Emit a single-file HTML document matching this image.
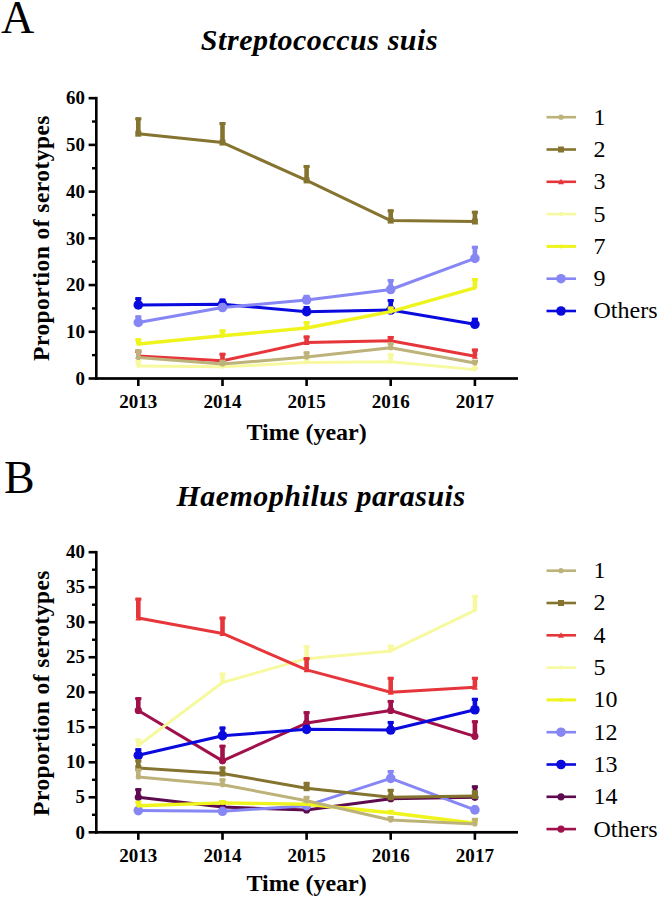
<!DOCTYPE html>
<html><head><meta charset="utf-8"><style>
html,body{margin:0;padding:0;background:#fff;}
svg{display:block;}
text{font-family:"Liberation Serif",serif;fill:#000;}
.tick{font-size:18px;font-weight:bold;}
.ax{font-size:24px;font-weight:bold;}
.yl{font-size:23.5px;font-weight:bold;letter-spacing:0.45px;}
.leg{font-size:24px;}
.title{font-size:31px;font-weight:bold;font-style:italic;}
.panel{font-size:46px;}
</style></head><body>
<svg width="658" height="897" viewBox="0 0 658 897">
<text x="0.9" y="32.8" class="panel">A</text>
<text x="319.5" y="50.4" class="title" text-anchor="middle" style="font-size:30px;letter-spacing:0.55px">Streptococcus suis</text>
<rect x="95" y="96.88" width="2.6" height="282.92" fill="#000"/>
<rect x="95" y="377.15" width="423" height="2.7" fill="#000"/>
<rect x="88.6" y="377.2" width="8" height="2.6" fill="#000"/>
<rect x="88.6" y="330.48" width="8" height="2.6" fill="#000"/>
<rect x="88.6" y="283.76" width="8" height="2.6" fill="#000"/>
<rect x="88.6" y="237.04" width="8" height="2.6" fill="#000"/>
<rect x="88.6" y="190.32" width="8" height="2.6" fill="#000"/>
<rect x="88.6" y="143.6" width="8" height="2.6" fill="#000"/>
<rect x="88.6" y="96.88" width="8" height="2.6" fill="#000"/>
<rect x="92" y="353.94" width="4.5" height="2.4" fill="#000"/>
<rect x="92" y="307.22" width="4.5" height="2.4" fill="#000"/>
<rect x="92" y="260.5" width="4.5" height="2.4" fill="#000"/>
<rect x="92" y="213.78" width="4.5" height="2.4" fill="#000"/>
<rect x="92" y="167.06" width="4.5" height="2.4" fill="#000"/>
<rect x="92" y="120.34" width="4.5" height="2.4" fill="#000"/>
<rect x="137" y="378.5" width="2.6" height="7.5" fill="#000"/>
<rect x="221.2" y="378.5" width="2.6" height="7.5" fill="#000"/>
<rect x="305.3" y="378.5" width="2.6" height="7.5" fill="#000"/>
<rect x="389.4" y="378.5" width="2.6" height="7.5" fill="#000"/>
<rect x="473.6" y="378.5" width="2.6" height="7.5" fill="#000"/>
<text transform="translate(85,384.7) scale(1.05,1)" class="tick" text-anchor="end">0</text>
<text transform="translate(85,337.98) scale(1.05,1)" class="tick" text-anchor="end">10</text>
<text transform="translate(85,291.26) scale(1.05,1)" class="tick" text-anchor="end">20</text>
<text transform="translate(85,244.54) scale(1.05,1)" class="tick" text-anchor="end">30</text>
<text transform="translate(85,197.82) scale(1.05,1)" class="tick" text-anchor="end">40</text>
<text transform="translate(85,151.1) scale(1.05,1)" class="tick" text-anchor="end">50</text>
<text transform="translate(85,104.38) scale(1.05,1)" class="tick" text-anchor="end">60</text>
<text transform="translate(138.3,407.8) scale(1.06,1)" class="tick" text-anchor="middle">2013</text>
<text transform="translate(222.5,407.8) scale(1.06,1)" class="tick" text-anchor="middle">2014</text>
<text transform="translate(306.6,407.8) scale(1.06,1)" class="tick" text-anchor="middle">2015</text>
<text transform="translate(390.7,407.8) scale(1.06,1)" class="tick" text-anchor="middle">2016</text>
<text transform="translate(474.9,407.8) scale(1.06,1)" class="tick" text-anchor="middle">2017</text>
<text transform="translate(48.5,238) rotate(-90)" class="yl" text-anchor="middle">Proportion of serotypes</text>
<text x="306.6" y="440.4" class="ax" text-anchor="middle">Time (year)</text>
<g><rect x="136" y="297.21" width="4.6" height="7.71" fill="#0a0ade"/><rect x="135.2" y="297.21" width="6.2" height="3" fill="#0a0ade"/><rect x="220.2" y="298.61" width="4.6" height="5.61" fill="#0a0ade"/><rect x="219.4" y="298.61" width="6.2" height="3" fill="#0a0ade"/><rect x="304.3" y="306.08" width="4.6" height="5.61" fill="#0a0ade"/><rect x="303.5" y="306.08" width="6.2" height="3" fill="#0a0ade"/><rect x="388.4" y="299.08" width="4.6" height="10.98" fill="#0a0ade"/><rect x="387.6" y="299.08" width="6.2" height="3" fill="#0a0ade"/><rect x="472.6" y="317.76" width="4.6" height="6.54" fill="#0a0ade"/><rect x="471.8" y="317.76" width="6.2" height="3" fill="#0a0ade"/><path d="M138.3 304.92 L222.5 304.22 L306.6 311.69 L390.7 310.06 L474.9 324.3" fill="none" stroke="#0a0ade" stroke-width="3.0" stroke-linejoin="round"/><circle cx="138.3" cy="304.92" r="4.8" fill="#0a0ade"/><circle cx="222.5" cy="304.22" r="4.8" fill="#0a0ade"/><circle cx="306.6" cy="311.69" r="4.8" fill="#0a0ade"/><circle cx="390.7" cy="310.06" r="4.8" fill="#0a0ade"/><circle cx="474.9" cy="324.3" r="4.8" fill="#0a0ade"/></g>
<g><rect x="136" y="315.43" width="4.6" height="7.01" fill="#8686f4"/><rect x="135.2" y="315.43" width="6.2" height="3" fill="#8686f4"/><rect x="220.2" y="303.75" width="4.6" height="3.74" fill="#8686f4"/><rect x="219.4" y="303.75" width="6.2" height="3" fill="#8686f4"/><rect x="304.3" y="294.87" width="4.6" height="5.14" fill="#8686f4"/><rect x="303.5" y="294.87" width="6.2" height="3" fill="#8686f4"/><rect x="388.4" y="278.99" width="4.6" height="10.51" fill="#8686f4"/><rect x="387.6" y="278.99" width="6.2" height="3" fill="#8686f4"/><rect x="472.6" y="245.82" width="4.6" height="12.61" fill="#8686f4"/><rect x="471.8" y="245.82" width="6.2" height="3" fill="#8686f4"/><path d="M138.3 322.44 L222.5 307.49 L306.6 300.01 L390.7 289.5 L474.9 258.43" fill="none" stroke="#8686f4" stroke-width="3.0" stroke-linejoin="round"/><circle cx="138.3" cy="322.44" r="4.8" fill="#8686f4"/><circle cx="222.5" cy="307.49" r="4.8" fill="#8686f4"/><circle cx="306.6" cy="300.01" r="4.8" fill="#8686f4"/><circle cx="390.7" cy="289.5" r="4.8" fill="#8686f4"/><circle cx="474.9" cy="258.43" r="4.8" fill="#8686f4"/></g>
<g><rect x="136" y="338.32" width="4.6" height="5.7" fill="#eef41c"/><rect x="135.2" y="338.32" width="6.2" height="3" fill="#eef41c"/><rect x="220.2" y="329.44" width="4.6" height="6.35" fill="#eef41c"/><rect x="219.4" y="329.44" width="6.2" height="3" fill="#eef41c"/><rect x="304.3" y="321.03" width="4.6" height="7.01" fill="#eef41c"/><rect x="303.5" y="321.03" width="6.2" height="3" fill="#eef41c"/><rect x="388.4" y="306.55" width="4.6" height="5.14" fill="#eef41c"/><rect x="387.6" y="306.55" width="6.2" height="3" fill="#eef41c"/><rect x="472.6" y="278.05" width="4.6" height="9.81" fill="#eef41c"/><rect x="471.8" y="278.05" width="6.2" height="3" fill="#eef41c"/><path d="M138.3 344.02 L222.5 335.8 L306.6 328.04 L390.7 311.69 L474.9 287.86" fill="none" stroke="#eef41c" stroke-width="3.4" stroke-linejoin="round"/><circle cx="138.3" cy="344.02" r="2" fill="#eef41c"/><circle cx="222.5" cy="335.8" r="2" fill="#eef41c"/><circle cx="306.6" cy="328.04" r="2" fill="#eef41c"/><circle cx="390.7" cy="311.69" r="2" fill="#eef41c"/><circle cx="474.9" cy="287.86" r="2" fill="#eef41c"/></g>
<g><rect x="136" y="360.28" width="4.6" height="5.61" fill="#f7f9a0"/><rect x="135.2" y="360.28" width="6.2" height="3" fill="#f7f9a0"/><rect x="220.2" y="363.08" width="4.6" height="3.74" fill="#f7f9a0"/><rect x="219.4" y="363.08" width="6.2" height="3" fill="#f7f9a0"/><rect x="304.3" y="357.48" width="4.6" height="5.14" fill="#f7f9a0"/><rect x="303.5" y="357.48" width="6.2" height="3" fill="#f7f9a0"/><rect x="388.4" y="353.27" width="4.6" height="8.41" fill="#f7f9a0"/><rect x="387.6" y="353.27" width="6.2" height="3" fill="#f7f9a0"/><rect x="472.6" y="366.35" width="4.6" height="3.27" fill="#f7f9a0"/><rect x="471.8" y="366.35" width="6.2" height="3" fill="#f7f9a0"/><path d="M138.3 365.89 L222.5 366.82 L306.6 362.62 L390.7 361.68 L474.9 369.62" fill="none" stroke="#f7f9a0" stroke-width="3.0" stroke-linejoin="round"/><circle cx="138.3" cy="365.89" r="2" fill="#f7f9a0"/><circle cx="222.5" cy="366.82" r="2" fill="#f7f9a0"/><circle cx="306.6" cy="362.62" r="2" fill="#f7f9a0"/><circle cx="390.7" cy="361.68" r="2" fill="#f7f9a0"/><circle cx="474.9" cy="369.62" r="2" fill="#f7f9a0"/></g>
<g><rect x="136" y="350" width="4.6" height="6.07" fill="#e6363b"/><rect x="135.2" y="350" width="6.2" height="3" fill="#e6363b"/><rect x="220.2" y="352.8" width="4.6" height="7.94" fill="#e6363b"/><rect x="219.4" y="352.8" width="6.2" height="3" fill="#e6363b"/><rect x="304.3" y="335.52" width="4.6" height="7.01" fill="#e6363b"/><rect x="303.5" y="335.52" width="6.2" height="3" fill="#e6363b"/><rect x="388.4" y="335.98" width="4.6" height="4.67" fill="#e6363b"/><rect x="387.6" y="335.98" width="6.2" height="3" fill="#e6363b"/><rect x="472.6" y="348.6" width="4.6" height="7.71" fill="#e6363b"/><rect x="471.8" y="348.6" width="6.2" height="3" fill="#e6363b"/><path d="M138.3 356.07 L222.5 360.75 L306.6 342.53 L390.7 340.66 L474.9 356.31" fill="none" stroke="#e6363b" stroke-width="3.0" stroke-linejoin="round"/><path d="M138.3 353.07L141.3 358.57L135.3 358.57Z" fill="#e6363b"/><path d="M222.5 357.75L225.5 363.25L219.5 363.25Z" fill="#e6363b"/><path d="M306.6 339.53L309.6 345.03L303.6 345.03Z" fill="#e6363b"/><path d="M390.7 337.66L393.7 343.16L387.7 343.16Z" fill="#e6363b"/><path d="M474.9 353.31L477.9 358.81L471.9 358.81Z" fill="#e6363b"/></g>
<g><rect x="136" y="117.34" width="4.6" height="16.35" fill="#85742f"/><rect x="135.2" y="117.34" width="6.2" height="3" fill="#85742f"/><rect x="220.2" y="122.01" width="4.6" height="20.56" fill="#85742f"/><rect x="219.4" y="122.01" width="6.2" height="3" fill="#85742f"/><rect x="304.3" y="164.99" width="4.6" height="15.42" fill="#85742f"/><rect x="303.5" y="164.99" width="6.2" height="3" fill="#85742f"/><rect x="388.4" y="209.37" width="4.6" height="11.21" fill="#85742f"/><rect x="387.6" y="209.37" width="6.2" height="3" fill="#85742f"/><rect x="472.6" y="210.78" width="4.6" height="10.75" fill="#85742f"/><rect x="471.8" y="210.78" width="6.2" height="3" fill="#85742f"/><path d="M138.3 133.69 L222.5 142.56 L306.6 180.41 L390.7 220.59 L474.9 221.52" fill="none" stroke="#85742f" stroke-width="3.0" stroke-linejoin="round"/><rect x="135.3" y="130.69" width="6" height="6" fill="#85742f"/><rect x="219.5" y="139.56" width="6" height="6" fill="#85742f"/><rect x="303.6" y="177.41" width="6" height="6" fill="#85742f"/><rect x="387.7" y="217.59" width="6" height="6" fill="#85742f"/><rect x="471.9" y="218.52" width="6" height="6" fill="#85742f"/></g>
<g><rect x="136" y="349.21" width="4.6" height="8.27" fill="#bdb27a"/><rect x="135.2" y="349.21" width="6.2" height="3" fill="#bdb27a"/><rect x="220.2" y="359.81" width="4.6" height="4.2" fill="#bdb27a"/><rect x="219.4" y="359.81" width="6.2" height="3" fill="#bdb27a"/><rect x="304.3" y="351.4" width="4.6" height="5.61" fill="#bdb27a"/><rect x="303.5" y="351.4" width="6.2" height="3" fill="#bdb27a"/><rect x="388.4" y="342.06" width="4.6" height="5.61" fill="#bdb27a"/><rect x="387.6" y="342.06" width="6.2" height="3" fill="#bdb27a"/><rect x="472.6" y="359.81" width="4.6" height="3.27" fill="#bdb27a"/><rect x="471.8" y="359.81" width="6.2" height="3" fill="#bdb27a"/><path d="M138.3 357.48 L222.5 364.02 L306.6 357.01 L390.7 347.66 L474.9 363.08" fill="none" stroke="#bdb27a" stroke-width="3.0" stroke-linejoin="round"/><circle cx="138.3" cy="357.48" r="2.6" fill="#bdb27a"/><circle cx="222.5" cy="364.02" r="2.6" fill="#bdb27a"/><circle cx="306.6" cy="357.01" r="2.6" fill="#bdb27a"/><circle cx="390.7" cy="347.66" r="2.6" fill="#bdb27a"/><circle cx="474.9" cy="363.08" r="2.6" fill="#bdb27a"/></g>
<rect x="546.5" y="115.9" width="29.5" height="2.6" fill="#bdb27a"/>
<circle cx="561" cy="117.2" r="2.6" fill="#bdb27a"/>
<text x="593.5" y="124.6" class="leg">1</text>
<rect x="546.5" y="148.2" width="29.5" height="2.6" fill="#85742f"/>
<rect x="558" y="146.5" width="6" height="6" fill="#85742f"/>
<text x="593.5" y="156.9" class="leg">2</text>
<rect x="546.5" y="180.5" width="29.5" height="2.6" fill="#e6363b"/>
<path d="M561 178.8L564 184.3L558 184.3Z" fill="#e6363b"/>
<text x="593.5" y="189.2" class="leg">3</text>
<rect x="546.5" y="212.8" width="29.5" height="2.6" fill="#f7f9a0"/>
<circle cx="561" cy="214.1" r="2" fill="#f7f9a0"/>
<text x="593.5" y="221.5" class="leg">5</text>
<rect x="546.5" y="244.9" width="29.5" height="3.0" fill="#eef41c"/>
<circle cx="561" cy="246.4" r="2" fill="#eef41c"/>
<text x="593.5" y="253.8" class="leg">7</text>
<rect x="546.5" y="277.4" width="29.5" height="2.6" fill="#8686f4"/>
<circle cx="561" cy="278.7" r="4.8" fill="#8686f4"/>
<text x="593.5" y="286.1" class="leg">9</text>
<rect x="546.5" y="309.7" width="29.5" height="2.6" fill="#0a0ade"/>
<circle cx="561" cy="311" r="4.8" fill="#0a0ade"/>
<text x="593.5" y="318.4" class="leg">Others</text>

<text x="3.9" y="493.4" class="panel">B</text>
<text x="321" y="506.3" class="title" text-anchor="middle" style="font-size:30px;letter-spacing:0.5px">Haemophilus parasuis</text>
<rect x="95" y="550.9" width="2.6" height="282.7" fill="#000"/>
<rect x="95" y="830.95" width="423" height="2.7" fill="#000"/>
<rect x="88.6" y="831" width="8" height="2.6" fill="#000"/>
<rect x="88.6" y="795.99" width="8" height="2.6" fill="#000"/>
<rect x="88.6" y="760.98" width="8" height="2.6" fill="#000"/>
<rect x="88.6" y="725.96" width="8" height="2.6" fill="#000"/>
<rect x="88.6" y="690.95" width="8" height="2.6" fill="#000"/>
<rect x="88.6" y="655.94" width="8" height="2.6" fill="#000"/>
<rect x="88.6" y="620.92" width="8" height="2.6" fill="#000"/>
<rect x="88.6" y="585.91" width="8" height="2.6" fill="#000"/>
<rect x="88.6" y="550.9" width="8" height="2.6" fill="#000"/>
<rect x="92" y="813.59" width="4.5" height="2.4" fill="#000"/>
<rect x="92" y="778.58" width="4.5" height="2.4" fill="#000"/>
<rect x="92" y="743.57" width="4.5" height="2.4" fill="#000"/>
<rect x="92" y="708.56" width="4.5" height="2.4" fill="#000"/>
<rect x="92" y="673.54" width="4.5" height="2.4" fill="#000"/>
<rect x="92" y="638.53" width="4.5" height="2.4" fill="#000"/>
<rect x="92" y="603.52" width="4.5" height="2.4" fill="#000"/>
<rect x="92" y="568.51" width="4.5" height="2.4" fill="#000"/>
<rect x="137" y="832.3" width="2.6" height="7.5" fill="#000"/>
<rect x="221.2" y="832.3" width="2.6" height="7.5" fill="#000"/>
<rect x="305.3" y="832.3" width="2.6" height="7.5" fill="#000"/>
<rect x="389.4" y="832.3" width="2.6" height="7.5" fill="#000"/>
<rect x="473.6" y="832.3" width="2.6" height="7.5" fill="#000"/>
<text transform="translate(85,838.5) scale(1.05,1)" class="tick" text-anchor="end">0</text>
<text transform="translate(85,803.49) scale(1.05,1)" class="tick" text-anchor="end">5</text>
<text transform="translate(85,768.48) scale(1.05,1)" class="tick" text-anchor="end">10</text>
<text transform="translate(85,733.46) scale(1.05,1)" class="tick" text-anchor="end">15</text>
<text transform="translate(85,698.45) scale(1.05,1)" class="tick" text-anchor="end">20</text>
<text transform="translate(85,663.44) scale(1.05,1)" class="tick" text-anchor="end">25</text>
<text transform="translate(85,628.42) scale(1.05,1)" class="tick" text-anchor="end">30</text>
<text transform="translate(85,593.41) scale(1.05,1)" class="tick" text-anchor="end">35</text>
<text transform="translate(85,558.4) scale(1.05,1)" class="tick" text-anchor="end">40</text>
<text transform="translate(138.3,861.6) scale(1.06,1)" class="tick" text-anchor="middle">2013</text>
<text transform="translate(222.5,861.6) scale(1.06,1)" class="tick" text-anchor="middle">2014</text>
<text transform="translate(306.6,861.6) scale(1.06,1)" class="tick" text-anchor="middle">2015</text>
<text transform="translate(390.7,861.6) scale(1.06,1)" class="tick" text-anchor="middle">2016</text>
<text transform="translate(474.9,861.6) scale(1.06,1)" class="tick" text-anchor="middle">2017</text>
<text transform="translate(48.5,693) rotate(-90)" class="yl" text-anchor="middle">Proportion of serotypes</text>
<text x="306.6" y="891.3" class="ax" text-anchor="middle">Time (year)</text>
<g><rect x="136" y="697.15" width="4.6" height="13.3" fill="#a0104a"/><rect x="135.2" y="697.15" width="6.2" height="3" fill="#a0104a"/><rect x="220.2" y="744.77" width="4.6" height="16.11" fill="#a0104a"/><rect x="219.4" y="744.77" width="6.2" height="3" fill="#a0104a"/><rect x="304.3" y="711.16" width="4.6" height="11.9" fill="#a0104a"/><rect x="303.5" y="711.16" width="6.2" height="3" fill="#a0104a"/><rect x="388.4" y="699.95" width="4.6" height="10.5" fill="#a0104a"/><rect x="387.6" y="699.95" width="6.2" height="3" fill="#a0104a"/><rect x="472.6" y="720.26" width="4.6" height="16.11" fill="#a0104a"/><rect x="471.8" y="720.26" width="6.2" height="3" fill="#a0104a"/><path d="M138.3 710.46 L222.5 760.87 L306.6 723.06 L390.7 710.46 L474.9 736.37" fill="none" stroke="#a0104a" stroke-width="3.0" stroke-linejoin="round"/><circle cx="138.3" cy="710.46" r="3.6" fill="#a0104a"/><circle cx="222.5" cy="760.87" r="3.6" fill="#a0104a"/><circle cx="306.6" cy="723.06" r="3.6" fill="#a0104a"/><circle cx="390.7" cy="710.46" r="3.6" fill="#a0104a"/><circle cx="474.9" cy="736.37" r="3.6" fill="#a0104a"/></g>
<g><rect x="136" y="788.18" width="4.6" height="9.1" fill="#5e0a4e"/><rect x="135.2" y="788.18" width="6.2" height="3" fill="#5e0a4e"/><rect x="220.2" y="800.79" width="4.6" height="6.3" fill="#5e0a4e"/><rect x="219.4" y="800.79" width="6.2" height="3" fill="#5e0a4e"/><rect x="304.3" y="807.09" width="4.6" height="2.8" fill="#5e0a4e"/><rect x="303.5" y="807.09" width="6.2" height="3" fill="#5e0a4e"/><rect x="388.4" y="797.29" width="4.6" height="1.4" fill="#5e0a4e"/><rect x="387.6" y="797.29" width="6.2" height="3" fill="#5e0a4e"/><rect x="472.6" y="785.38" width="4.6" height="11.9" fill="#5e0a4e"/><rect x="471.8" y="785.38" width="6.2" height="3" fill="#5e0a4e"/><path d="M138.3 797.29 L222.5 807.09 L306.6 809.89 L390.7 798.69 L474.9 797.29" fill="none" stroke="#5e0a4e" stroke-width="3.0" stroke-linejoin="round"/><circle cx="138.3" cy="797.29" r="3.6" fill="#5e0a4e"/><circle cx="222.5" cy="807.09" r="3.6" fill="#5e0a4e"/><circle cx="306.6" cy="809.89" r="3.6" fill="#5e0a4e"/><circle cx="390.7" cy="798.69" r="3.6" fill="#5e0a4e"/><circle cx="474.9" cy="797.29" r="3.6" fill="#5e0a4e"/></g>
<g><rect x="136" y="748.27" width="4.6" height="7" fill="#0a0ade"/><rect x="135.2" y="748.27" width="6.2" height="3" fill="#0a0ade"/><rect x="220.2" y="726.56" width="4.6" height="9.1" fill="#0a0ade"/><rect x="219.4" y="726.56" width="6.2" height="3" fill="#0a0ade"/><rect x="304.3" y="725.16" width="4.6" height="4.2" fill="#0a0ade"/><rect x="303.5" y="725.16" width="6.2" height="3" fill="#0a0ade"/><rect x="388.4" y="720.96" width="4.6" height="9.1" fill="#0a0ade"/><rect x="387.6" y="720.96" width="6.2" height="3" fill="#0a0ade"/><rect x="472.6" y="697.85" width="4.6" height="11.9" fill="#0a0ade"/><rect x="471.8" y="697.85" width="6.2" height="3" fill="#0a0ade"/><path d="M138.3 755.27 L222.5 735.67 L306.6 729.36 L390.7 730.06 L474.9 709.76" fill="none" stroke="#0a0ade" stroke-width="3.0" stroke-linejoin="round"/><circle cx="138.3" cy="755.27" r="4.8" fill="#0a0ade"/><circle cx="222.5" cy="735.67" r="4.8" fill="#0a0ade"/><circle cx="306.6" cy="729.36" r="4.8" fill="#0a0ade"/><circle cx="390.7" cy="730.06" r="4.8" fill="#0a0ade"/><circle cx="474.9" cy="709.76" r="4.8" fill="#0a0ade"/></g>
<g><rect x="136" y="807.79" width="4.6" height="2.8" fill="#8686f4"/><rect x="135.2" y="807.79" width="6.2" height="3" fill="#8686f4"/><rect x="220.2" y="809.19" width="4.6" height="2.1" fill="#8686f4"/><rect x="219.4" y="809.19" width="6.2" height="3" fill="#8686f4"/><rect x="304.3" y="804.29" width="4.6" height="1.4" fill="#8686f4"/><rect x="303.5" y="804.29" width="6.2" height="3" fill="#8686f4"/><rect x="388.4" y="769.98" width="4.6" height="8.4" fill="#8686f4"/><rect x="387.6" y="769.98" width="6.2" height="3" fill="#8686f4"/><rect x="472.6" y="805.69" width="4.6" height="4.2" fill="#8686f4"/><rect x="471.8" y="805.69" width="6.2" height="3" fill="#8686f4"/><path d="M138.3 810.59 L222.5 811.29 L306.6 805.69 L390.7 778.38 L474.9 809.89" fill="none" stroke="#8686f4" stroke-width="3.0" stroke-linejoin="round"/><circle cx="138.3" cy="810.59" r="4.8" fill="#8686f4"/><circle cx="222.5" cy="811.29" r="4.8" fill="#8686f4"/><circle cx="306.6" cy="805.69" r="4.8" fill="#8686f4"/><circle cx="390.7" cy="778.38" r="4.8" fill="#8686f4"/><circle cx="474.9" cy="809.89" r="4.8" fill="#8686f4"/></g>
<g><rect x="136" y="800.79" width="4.6" height="4.9" fill="#eef41c"/><rect x="135.2" y="800.79" width="6.2" height="3" fill="#eef41c"/><rect x="220.2" y="800.09" width="4.6" height="2.8" fill="#eef41c"/><rect x="219.4" y="800.09" width="6.2" height="3" fill="#eef41c"/><rect x="304.3" y="800.79" width="4.6" height="3.5" fill="#eef41c"/><rect x="303.5" y="800.79" width="6.2" height="3" fill="#eef41c"/><rect x="388.4" y="809.89" width="4.6" height="2.8" fill="#eef41c"/><rect x="387.6" y="809.89" width="6.2" height="3" fill="#eef41c"/><rect x="472.6" y="819.7" width="4.6" height="3.5" fill="#eef41c"/><rect x="471.8" y="819.7" width="6.2" height="3" fill="#eef41c"/><path d="M138.3 805.69 L222.5 802.89 L306.6 804.29 L390.7 812.69 L474.9 823.2" fill="none" stroke="#eef41c" stroke-width="3.4" stroke-linejoin="round"/><circle cx="138.3" cy="805.69" r="2" fill="#eef41c"/><circle cx="222.5" cy="802.89" r="2" fill="#eef41c"/><circle cx="306.6" cy="804.29" r="2" fill="#eef41c"/><circle cx="390.7" cy="812.69" r="2" fill="#eef41c"/><circle cx="474.9" cy="823.2" r="2" fill="#eef41c"/></g>
<g><rect x="136" y="738.47" width="4.6" height="7" fill="#f7f9a0"/><rect x="135.2" y="738.47" width="6.2" height="3" fill="#f7f9a0"/><rect x="220.2" y="672.64" width="4.6" height="9.8" fill="#f7f9a0"/><rect x="219.4" y="672.64" width="6.2" height="3" fill="#f7f9a0"/><rect x="304.3" y="645.33" width="4.6" height="13.3" fill="#f7f9a0"/><rect x="303.5" y="645.33" width="6.2" height="3" fill="#f7f9a0"/><rect x="388.4" y="644.63" width="4.6" height="6.3" fill="#f7f9a0"/><rect x="387.6" y="644.63" width="6.2" height="3" fill="#f7f9a0"/><rect x="472.6" y="594.92" width="4.6" height="15.41" fill="#f7f9a0"/><rect x="471.8" y="594.92" width="6.2" height="3" fill="#f7f9a0"/><path d="M138.3 745.47 L222.5 682.45 L306.6 658.64 L390.7 650.94 L474.9 610.32" fill="none" stroke="#f7f9a0" stroke-width="3.0" stroke-linejoin="round"/><circle cx="138.3" cy="745.47" r="2" fill="#f7f9a0"/><circle cx="222.5" cy="682.45" r="2" fill="#f7f9a0"/><circle cx="306.6" cy="658.64" r="2" fill="#f7f9a0"/><circle cx="390.7" cy="650.94" r="2" fill="#f7f9a0"/><circle cx="474.9" cy="610.32" r="2" fill="#f7f9a0"/></g>
<g><rect x="136" y="597.72" width="4.6" height="20.31" fill="#e6363b"/><rect x="135.2" y="597.72" width="6.2" height="3" fill="#e6363b"/><rect x="220.2" y="616.62" width="4.6" height="16.81" fill="#e6363b"/><rect x="219.4" y="616.62" width="6.2" height="3" fill="#e6363b"/><rect x="304.3" y="657.24" width="4.6" height="12.6" fill="#e6363b"/><rect x="303.5" y="657.24" width="6.2" height="3" fill="#e6363b"/><rect x="388.4" y="676.84" width="4.6" height="15.41" fill="#e6363b"/><rect x="387.6" y="676.84" width="6.2" height="3" fill="#e6363b"/><rect x="472.6" y="676.84" width="4.6" height="10.5" fill="#e6363b"/><rect x="471.8" y="676.84" width="6.2" height="3" fill="#e6363b"/><path d="M138.3 618.02 L222.5 633.43 L306.6 669.84 L390.7 692.25 L474.9 687.35" fill="none" stroke="#e6363b" stroke-width="3.0" stroke-linejoin="round"/><path d="M138.3 615.02L141.3 620.52L135.3 620.52Z" fill="#e6363b"/><path d="M222.5 630.43L225.5 635.93L219.5 635.93Z" fill="#e6363b"/><path d="M306.6 666.84L309.6 672.34L303.6 672.34Z" fill="#e6363b"/><path d="M390.7 689.25L393.7 694.75L387.7 694.75Z" fill="#e6363b"/><path d="M474.9 684.35L477.9 689.85L471.9 689.85Z" fill="#e6363b"/></g>
<g><rect x="136" y="759.47" width="4.6" height="8.4" fill="#85742f"/><rect x="135.2" y="759.47" width="6.2" height="3" fill="#85742f"/><rect x="220.2" y="766.48" width="4.6" height="7" fill="#85742f"/><rect x="219.4" y="766.48" width="6.2" height="3" fill="#85742f"/><rect x="304.3" y="781.88" width="4.6" height="6.3" fill="#85742f"/><rect x="303.5" y="781.88" width="6.2" height="3" fill="#85742f"/><rect x="388.4" y="788.88" width="4.6" height="8.4" fill="#85742f"/><rect x="387.6" y="788.88" width="6.2" height="3" fill="#85742f"/><rect x="472.6" y="790.28" width="4.6" height="5.6" fill="#85742f"/><rect x="471.8" y="790.28" width="6.2" height="3" fill="#85742f"/><path d="M138.3 767.88 L222.5 773.48 L306.6 788.18 L390.7 797.29 L474.9 795.89" fill="none" stroke="#85742f" stroke-width="3.0" stroke-linejoin="round"/><rect x="135.3" y="764.88" width="6" height="6" fill="#85742f"/><rect x="219.5" y="770.48" width="6" height="6" fill="#85742f"/><rect x="303.6" y="785.18" width="6" height="6" fill="#85742f"/><rect x="387.7" y="794.29" width="6" height="6" fill="#85742f"/><rect x="471.9" y="792.89" width="6" height="6" fill="#85742f"/></g>
<g><rect x="136" y="768.58" width="4.6" height="8.4" fill="#bdb27a"/><rect x="135.2" y="768.58" width="6.2" height="3" fill="#bdb27a"/><rect x="220.2" y="778.38" width="4.6" height="6.3" fill="#bdb27a"/><rect x="219.4" y="778.38" width="6.2" height="3" fill="#bdb27a"/><rect x="304.3" y="795.89" width="4.6" height="4.9" fill="#bdb27a"/><rect x="303.5" y="795.89" width="6.2" height="3" fill="#bdb27a"/><rect x="388.4" y="816.19" width="4.6" height="3.85" fill="#bdb27a"/><rect x="387.6" y="816.19" width="6.2" height="3" fill="#bdb27a"/><rect x="472.6" y="817.87" width="4.6" height="6.02" fill="#bdb27a"/><rect x="471.8" y="817.87" width="6.2" height="3" fill="#bdb27a"/><path d="M138.3 776.98 L222.5 784.68 L306.6 800.79 L390.7 820.05 L474.9 823.9" fill="none" stroke="#bdb27a" stroke-width="3.0" stroke-linejoin="round"/><circle cx="138.3" cy="776.98" r="2.6" fill="#bdb27a"/><circle cx="222.5" cy="784.68" r="2.6" fill="#bdb27a"/><circle cx="306.6" cy="800.79" r="2.6" fill="#bdb27a"/><circle cx="390.7" cy="820.05" r="2.6" fill="#bdb27a"/><circle cx="474.9" cy="823.9" r="2.6" fill="#bdb27a"/></g>
<rect x="546.5" y="569.4" width="29.5" height="2.6" fill="#bdb27a"/>
<circle cx="561" cy="570.7" r="2.6" fill="#bdb27a"/>
<text x="593.5" y="578.1" class="leg">1</text>
<rect x="546.5" y="601.7" width="29.5" height="2.6" fill="#85742f"/>
<rect x="558" y="600" width="6" height="6" fill="#85742f"/>
<text x="593.5" y="610.4" class="leg">2</text>
<rect x="546.5" y="634" width="29.5" height="2.6" fill="#e6363b"/>
<path d="M561 632.3L564 637.8L558 637.8Z" fill="#e6363b"/>
<text x="593.5" y="642.7" class="leg">4</text>
<rect x="546.5" y="666.3" width="29.5" height="2.6" fill="#f7f9a0"/>
<circle cx="561" cy="667.6" r="2" fill="#f7f9a0"/>
<text x="593.5" y="675" class="leg">5</text>
<rect x="546.5" y="698.4" width="29.5" height="3.0" fill="#eef41c"/>
<circle cx="561" cy="699.9" r="2" fill="#eef41c"/>
<text x="593.5" y="707.3" class="leg">10</text>
<rect x="546.5" y="730.9" width="29.5" height="2.6" fill="#8686f4"/>
<circle cx="561" cy="732.2" r="4.8" fill="#8686f4"/>
<text x="593.5" y="739.6" class="leg">12</text>
<rect x="546.5" y="763.2" width="29.5" height="2.6" fill="#0a0ade"/>
<circle cx="561" cy="764.5" r="4.8" fill="#0a0ade"/>
<text x="593.5" y="771.9" class="leg">13</text>
<rect x="546.5" y="795.5" width="29.5" height="2.6" fill="#5e0a4e"/>
<circle cx="561" cy="796.8" r="3.6" fill="#5e0a4e"/>
<text x="593.5" y="804.2" class="leg">14</text>
<rect x="546.5" y="827.8" width="29.5" height="2.6" fill="#a0104a"/>
<circle cx="561" cy="829.1" r="3.6" fill="#a0104a"/>
<text x="593.5" y="836.5" class="leg">Others</text>
</svg>
</body></html>
